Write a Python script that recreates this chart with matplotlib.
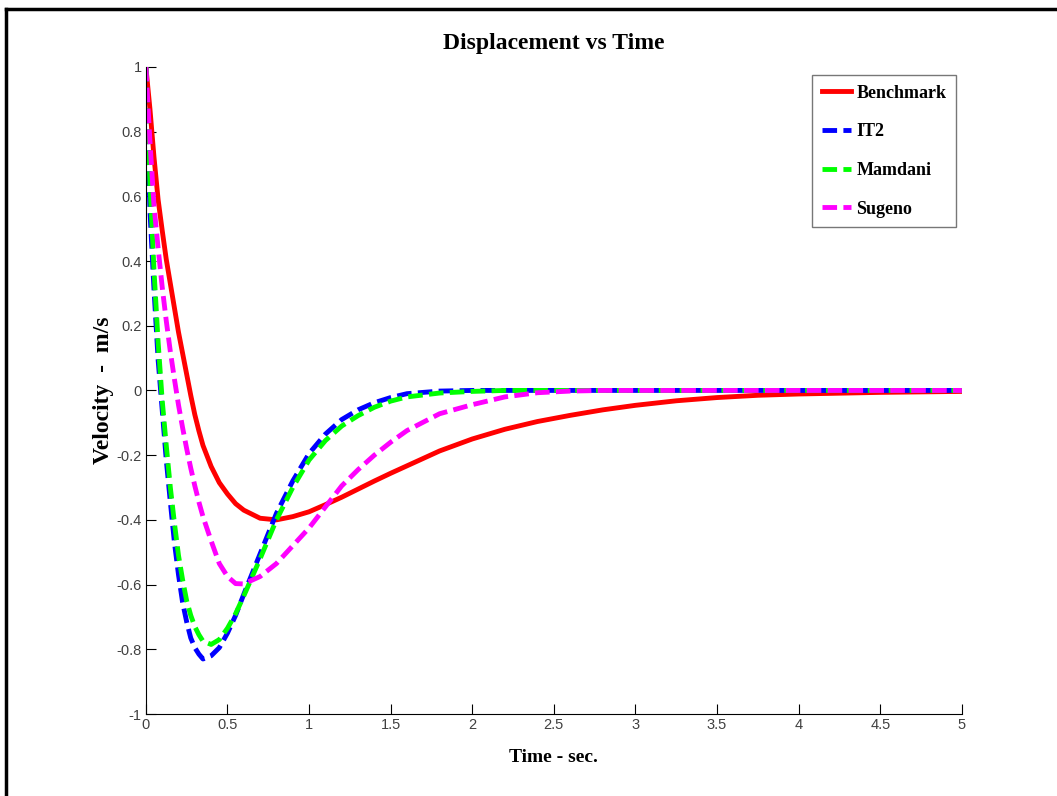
import numpy as np
import matplotlib
matplotlib.use("Agg")
import matplotlib.pyplot as plt
from matplotlib.lines import Line2D

# time samples (sec)
time = [0, 0.025, 0.05, 0.075, 0.1, 0.125, 0.15, 0.175, 0.2, 0.225,
        0.25, 0.275, 0.3, 0.325, 0.35, 0.4, 0.45, 0.5, 0.55, 0.6,
        0.7, 0.8, 0.9, 1.0, 1.1, 1.2, 1.3, 1.4, 1.5, 1.6,
        1.8, 2.0, 2.2, 2.4, 2.6, 2.8, 3.0, 3.25, 3.5, 3.75,
        4.0, 4.5, 5.0]

benchmark = [1.0, 0.87, 0.72, 0.59, 0.495, 0.405, 0.33, 0.255, 0.18, 0.115,
             0.05, -0.015, -0.075, -0.125, -0.17, -0.235, -0.285, -0.32, -0.35, -0.37,
             -0.395, -0.40, -0.39, -0.375, -0.353, -0.33, -0.305, -0.28, -0.256, -0.233,
             -0.187, -0.15, -0.12, -0.096, -0.077, -0.06, -0.046, -0.032, -0.022, -0.015,
             -0.011, -0.006, -0.003]

it2 = [1.0, 0.555, 0.31, 0.095, -0.06, -0.215, -0.345, -0.47, -0.57, -0.655,
       -0.715, -0.765, -0.795, -0.815, -0.83, -0.82, -0.795, -0.75, -0.695, -0.63,
       -0.505, -0.38, -0.28, -0.195, -0.135, -0.09, -0.06, -0.038, -0.022, -0.01,
       -0.002, 0.0, 0.0, 0.0, 0.0, 0.0, 0.0, 0.0, 0.0, 0.0,
       0.0, 0.0, 0.0]

mamdani = [1.0, 0.64, 0.37, 0.15, -0.03, -0.17, -0.30, -0.41, -0.51, -0.585,
           -0.65, -0.695, -0.73, -0.755, -0.775, -0.785, -0.77, -0.735, -0.69, -0.635,
           -0.52, -0.40, -0.30, -0.215, -0.155, -0.11, -0.078, -0.052, -0.033, -0.02,
           -0.008, -0.003, 0.0, 0.0, 0.0, 0.0, 0.0, 0.0, 0.0, 0.0,
           0.0, 0.0, 0.0]

sugeno = [1.0, 0.77, 0.57, 0.44, 0.32, 0.215, 0.12, 0.035, -0.045, -0.115,
          -0.18, -0.24, -0.295, -0.345, -0.39, -0.465, -0.535, -0.575, -0.597, -0.598,
          -0.575, -0.535, -0.48, -0.425, -0.36, -0.295, -0.245, -0.20, -0.16, -0.124,
          -0.072, -0.044, -0.02, -0.007, -0.002, 0.0, 0.0, 0.0, 0.0, 0.0,
          0.0, 0.0, 0.0]

x_ticks = [0, 0.5, 1, 1.5, 2, 2.5, 3, 3.5, 4, 4.5, 5]
x_ticklabels = ["0", "0.5", "1", "1.5", "2", "2.5", "3", "3.5", "4", "4.5", "5"]
y_ticks = [1, 0.8, 0.6, 0.4, 0.2, 0, -0.2, -0.4, -0.6, -0.8, -1]
y_ticklabels = ["1", "0.8", "0.6", "0.4", "0.2", "0", "-0.2", "-0.4", "-0.6", "-0.8", "-1"]

serif = ["Liberation Serif", "DejaVu Serif"]
narrow = ["Liberation Sans Narrow", "Liberation Sans", "DejaVu Sans"]

fig = plt.figure(figsize=(10.57, 7.96), dpi=100)
ax = fig.add_axes([0.138, 0.103, 0.772, 0.813])

dash = (3, 1.3)
ax.plot(time, benchmark, color="#ff0000", lw=3.5, label="Benchmark")
ax.plot(time, it2, color="#0000ff", lw=3.5, dashes=dash, label="IT2")
ax.plot(time, mamdani, color="#00ff00", lw=3.5, dashes=dash, label="Mamdani")
ax.plot(time, sugeno, color="#ff00ff", lw=3.5, dashes=dash, label="Sugeno")

ax.set_xlim(0, 5)
ax.set_ylim(-1, 1)
ax.set_xticks(x_ticks)
ax.set_xticklabels(x_ticklabels, family=narrow, fontsize=10.5, color="#404040")
ax.set_yticks(y_ticks)
ax.set_yticklabels(y_ticklabels, family=narrow, fontsize=10.5, color="#404040")
ax.tick_params(direction="in", length=7, width=0.8, pad=3)

ax.spines["top"].set_visible(False)
ax.spines["right"].set_visible(False)

ax.set_title("Displacement vs Time", family=serif, fontweight="bold",
             fontsize=17, pad=13)
ax.set_xlabel("Time - sec.", family=serif, fontweight="bold", fontsize=14, labelpad=12)
ax.set_ylabel("Velocity  -  m/s", family=serif, fontweight="bold", fontsize=17, labelpad=2)

leg = ax.legend(loc="upper right", bbox_to_anchor=(0.993, 0.988),
                prop={"family": serif, "size": 13, "weight": "bold"},
                frameon=True, fancybox=False,
                handlelength=1.6, handletextpad=0.3, labelspacing=1.2,
                borderpad=0.55, borderaxespad=0)
leg.get_frame().set_edgecolor("#555555")
leg.get_frame().set_linewidth(1.0)

# outer frame (top and left edges of the captured window)
fig.add_artist(Line2D([0.006, 1.0], [0.989, 0.989], color="black", lw=2.5,
                      transform=fig.transFigure))
fig.add_artist(Line2D([0.006, 0.006], [0.0, 0.989], color="black", lw=2.5,
                      transform=fig.transFigure))

fig.savefig("out.png", dpi=100)
